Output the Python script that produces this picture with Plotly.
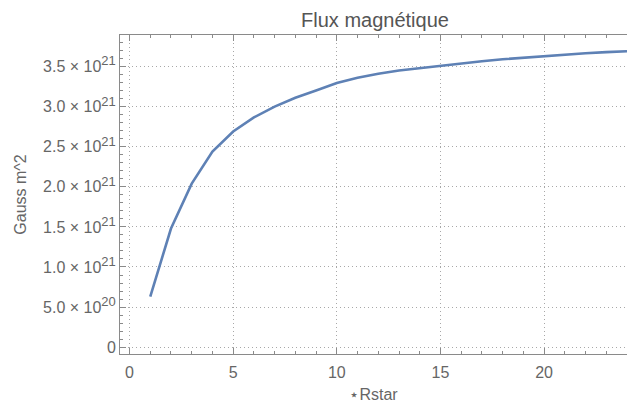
import plotly.graph_objects as go

# Data
r_star = list(range(1, 25))
flux = [0.63e21, 1.48e21, 2.04e21, 2.44e21, 2.69e21, 2.865e21, 3.0e21, 3.11e21,
        3.20e21, 3.295e21, 3.36e21, 3.41e21, 3.45e21, 3.48e21, 3.51e21, 3.54e21,
        3.565e21, 3.59e21, 3.61e21, 3.63e21, 3.65e21, 3.665e21, 3.68e21, 3.69e21]

y_tickvals = [0, 5e20, 1e21, 1.5e21, 2e21, 2.5e21, 3e21, 3.5e21]
y_mantissas = ["5.0", "1.0", "1.5", "2.0", "2.5", "3.0", "3.5"]
y_exponents = ["20", "21", "21", "21", "21", "21", "21"]
x_tickvals = [0, 5, 10, 15, 20]
x_ticktext = ["0", "5", "10", "15", "20"]

y_ticktext = ["0"] + [
    f"{m} × 10<sup><span style='font-size:13px'>{e}</span></sup>"
    for m, e in zip(y_mantissas, y_exponents)
]

FONT = "Liberation Sans, Arial, sans-serif"
AX = "#8a8a8a"
TXT = "#666666"
GRID = "#a8a8a8"

fig = go.Figure()
fig.add_trace(go.Scatter(x=r_star, y=flux, mode="lines",
                         line=dict(color="#5E81B5", width=2.6), hoverinfo="skip"))

fig.update_layout(
    width=627, height=405,
    margin=dict(l=120, r=0, t=35, b=51),
    paper_bgcolor="white", plot_bgcolor="white",
    showlegend=False,
    font=dict(family=FONT, size=15, color=TXT),
    title=dict(text="Flux magnétique", x=375 / 627, xanchor="center",
               y=1 - 20 / 405, yanchor="middle",
               font=dict(family=FONT, size=20, color="#555555")),
)

fig.update_xaxes(
    range=[-0.46, 24.0], showline=True, linecolor=AX, linewidth=1, mirror="ticks",
    ticks="inside", ticklen=6, tickcolor=AX, tickwidth=1,
    tickvals=x_tickvals, ticktext=x_ticktext,
    minor=dict(dtick=1, ticks="inside", ticklen=3, tickcolor=AX, showgrid=False),
    showgrid=True, gridcolor=GRID, griddash="1px,3px", gridwidth=1,
    zeroline=False, ticklabelstandoff=4,
    tickfont=dict(family=FONT, size=16, color=TXT),
    title=dict(text="⋆Rstar", font=dict(family=FONT, size=16, color=TXT), standoff=8),
)
fig.update_yaxes(
    range=[-0.085e21, 3.893e21], showline=True, linecolor=AX, linewidth=1, mirror=False,
    ticks="inside", ticklen=6, tickcolor=AX, tickwidth=1,
    tickvals=y_tickvals, ticktext=y_ticktext,
    minor=dict(dtick=1e20, ticks="inside", ticklen=3, tickcolor=AX, showgrid=False),
    showgrid=True, gridcolor=GRID, griddash="1px,3px", gridwidth=1,
    zeroline=False,
    tickfont=dict(family=FONT, size=16, color=TXT),
    title=dict(text="Gauss m^2", font=dict(family=FONT, size=16, color=TXT), standoff=12),
)

fig.write_html("out.html")
